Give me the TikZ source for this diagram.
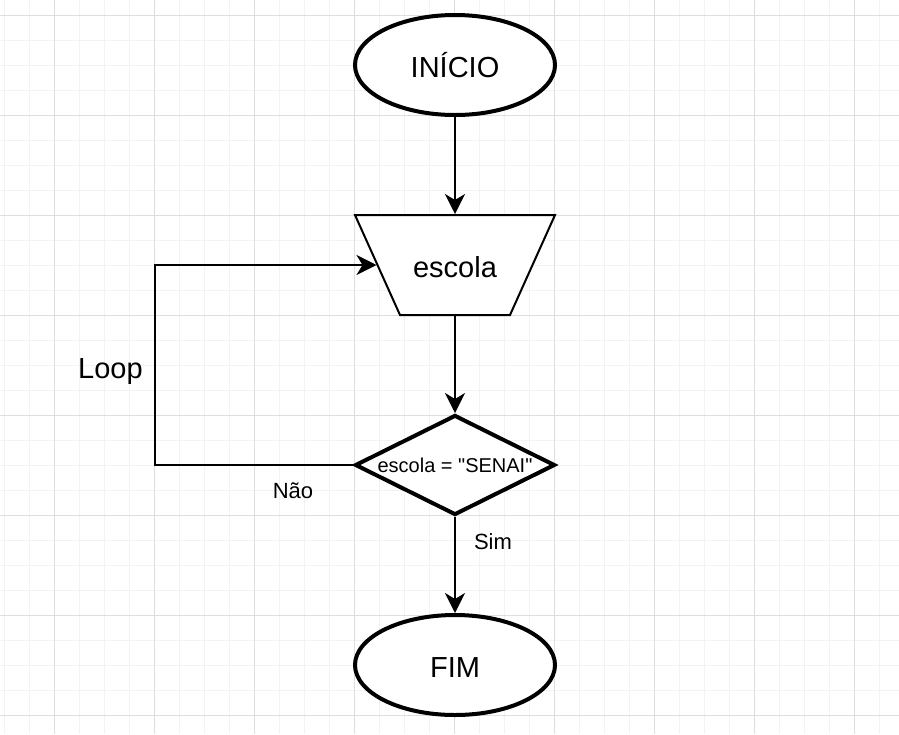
\documentclass[tikz,border=0pt]{standalone}
\usepackage{fontspec}
\setmainfont{Liberation Sans}
\usetikzlibrary{shapes.geometric, arrows.meta, calc}
\definecolor{gridmajor}{HTML}{DEDEDE}
\definecolor{gridminor}{HTML}{F3F3F3}
\begin{document}
\begin{tikzpicture}[x=1pt,y=-1pt,
  term/.style={ellipse, draw, line width=4pt, minimum width=200pt, minimum height=100pt,
    inner sep=0pt, font=\fontsize{29}{34}\selectfont, text height=24pt, text depth=0pt},
  inbox/.style={rectangle, minimum width=200pt, minimum height=100pt, inner sep=0pt,
    outer sep=1pt, font=\fontsize{29}{34}\selectfont, text height=24pt, text depth=0pt},
  trapline/.style={line width=2pt, fill=white, line join=miter},
  decision/.style={diamond, draw, line width=4pt, aspect=2, minimum width=200pt,
    minimum height=100pt, inner sep=0pt, font=\fontsize{20}{24}\selectfont,
    text height=14pt, text depth=0pt},
  conn/.style={line width=2pt, -{Stealth[length=20pt, width=20pt, inset=6pt]}},
  lab/.style={inner sep=0pt, anchor=base},
  biglab/.style={lab, font=\fontsize{29}{34}\selectfont},
  smalllab/.style={lab, font=\fontsize{22}{26}\selectfont}
]
\useasboundingbox (0,0) rectangle (899,734);
\fill[white] (0,0) rectangle (899,734);
% grid
\foreach \x in {4,29,...,899} \draw[gridminor, line width=1pt] (\x,0) -- (\x,734);
\foreach \y in {15,40,...,734} \draw[gridminor, line width=1pt] (0,\y) -- (899,\y);
\foreach \x in {54,154,...,899} \draw[gridmajor, line width=1pt] (\x,0) -- (\x,734);
\foreach \y in {15,115,...,734} \draw[gridmajor, line width=1pt] (0,\y) -- (899,\y);

% trapezoid body (manual input shape)
\coordinate (ec) at (455,265);
\draw[trapline] ($(ec)+(-100,-50)$) -- ($(ec)+(100,-50)$) -- ($(ec)+(55,50)$)
  -- ($(ec)+(-55,50)$) -- cycle;

\node[term, fill=white] (start) at (455,65) {INÍCIO};
\node[inbox] (escola) at (ec) {escola};
\node[decision, fill=white] (dec) at (455,465) {escola = \textquotedbl SENAI\textquotedbl};
\node[term, fill=white] (fim) at (455,665) {FIM};

\coordinate (loopc) at (155,265);
\coordinate (loopin) at (376.5,265);

\draw[conn] (start.south) -- (escola.north);
\draw[conn] (escola.south) -- (dec.north);
\draw[conn] (dec.south) -- (fim.north);
\draw[conn] (dec.west) -| (loopc) -- (loopin);

\node[biglab] (loop) at (110.5,378) {Loop};
\node[smalllab] (nao) at (293,498) {Não};
\node[smalllab] (sim) at (493,549) {Sim};
\end{tikzpicture}
\end{document}
